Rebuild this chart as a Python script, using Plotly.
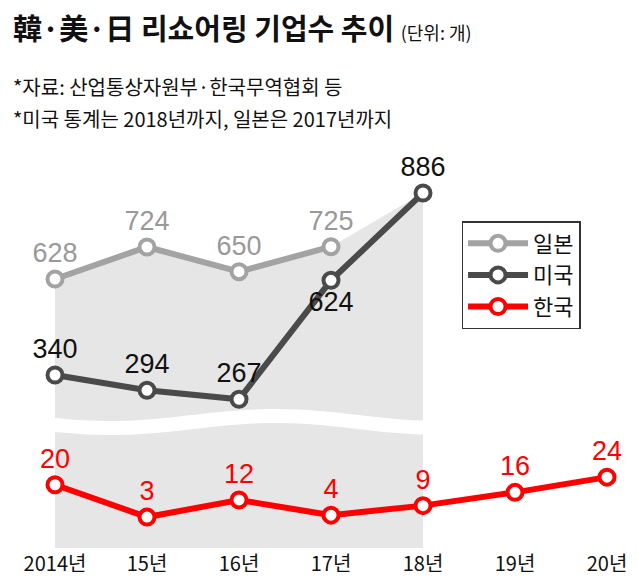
import plotly.graph_objects as go
import math

years = [2014, 2015, 2016, 2017, 2018, 2019, 2020]
xlabels = ["2014년", "15년", "16년", "17년", "18년", "19년", "20년"]
japan_x = [2014, 2015, 2016, 2017]
japan = [628, 724, 650, 725]
us_x = [2014, 2015, 2016, 2017, 2018]
us = [340, 294, 267, 624, 886]
korea = [20, 3, 12, 4, 9, 16, 24]
shade_top = [628, 724, 650, 725, 886]

UP = [-179, 1441]
LO = [-13.3, 271]
H = 540
NUM = "Liberation Sans, Arial"
KR = "Noto Sans CJK KR"

fig = go.Figure()
fig.add_trace(go.Scatter(x=us_x + us_x[::-1], y=shade_top + [UP[0]] * 5, fill="toself",
                         mode="lines", fillcolor="#e6e6e6", line=dict(width=0), yaxis="y",
                         hoverinfo="skip", showlegend=False))

def series(name, x, y, color, axis, pos, tcolor):
    fig.add_trace(go.Scatter(
        x=x, y=y, name=name, yaxis=axis, mode="lines+markers+text",
        line=dict(color=color, width=6),
        marker=dict(size=15, color="white", line=dict(color=color, width=4)),
        text=[str(v) for v in y], textposition=pos,
        textfont=dict(family=NUM, size=27, color=tcolor), cliponaxis=False))

series("일본", japan_x, japan, "#a3a3a3", "y", "top center", "#999999")
series("미국", us_x, us, "#4a4a4a", "y",
       ["top center"] * 3 + ["bottom center", "top center"], "#111111")
series("한국", years, korea, "#ff0000", "y2", "top center", "#ff0000")

# wavy break
pts = []
for i in range(0, 65):
    px = i * 10
    py = 414 + 6 * math.sin(2 * math.pi * (px - 20) / 330)
    pts.append((px / 637, 1 - py / H))
path = "M " + " L ".join(f"{a:.4f},{b:.4f}" for a, b in pts)
fig.add_shape(type="path", path=path, xref="paper", yref="paper",
              line=dict(color="white", width=14), layer="above")

fig.add_annotation(x=0.005, y=1, xref="paper", yref="paper", xanchor="left", yanchor="top",
                   text="<b>韓·美·日 리쇼어링 기업수 추이</b> <span style='font-size:18px'>(단위: 개)</span>",
                   showarrow=False, font=dict(family=KR, size=29, color="#111"), yshift=4)
fig.add_annotation(x=0.005, y=1 - 62 / H, xref="paper", yref="paper", xanchor="left", yanchor="top",
                   text="*자료: 산업통상자원부·한국무역협회 등", showarrow=False,
                   font=dict(family=KR, size=20, color="#111"))
fig.add_annotation(x=0.005, y=1 - 94 / H, xref="paper", yref="paper", xanchor="left", yanchor="top",
                   text="*미국 통계는 2018년까지, 일본은 2017년까지", showarrow=False,
                   font=dict(family=KR, size=20, color="#111"))

fig.update_layout(
    width=637, height=580, margin=dict(l=0, r=0, t=0, b=40),
    paper_bgcolor="white", plot_bgcolor="white",
    xaxis=dict(range=[2013.489, 2020.413], tickvals=years, ticktext=xlabels,
               showgrid=False, zeroline=False, ticks="", ticklabelstandoff=2,
               tickfont=dict(family=KR, size=20, color="#111")),
    yaxis=dict(range=UP, visible=False),
    yaxis2=dict(range=LO, overlaying="y", visible=False),
    legend=dict(x=0.712, y=1 - 213 / H, xanchor="left", yanchor="top",
                bgcolor="white", bordercolor="#333", borderwidth=1.5,
                font=dict(family=KR, size=22, color="#111"), itemwidth=60,
                tracegroupgap=8),
    showlegend=True,
)
fig.write_html("out.html")
